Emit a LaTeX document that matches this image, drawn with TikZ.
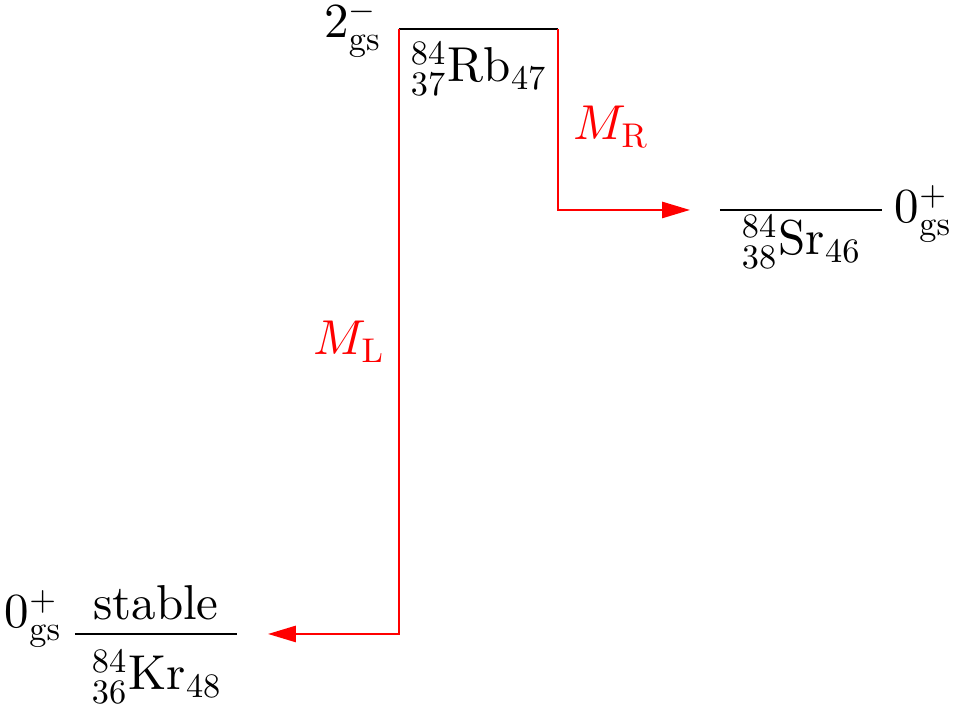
\documentclass[tikz,border=0pt]{standalone}
\usepackage{graphicx}
\usetikzlibrary{arrows.meta}
\newcommand{\ssc}[1]{\scalebox{0.7}{#1}}
\begin{document}
\begin{tikzpicture}[x=0.2041pt,y=-0.2041pt,
  level/.style={line width=0.5pt,black},
  decay/.style={line width=0.45pt,red,-{Triangle[length=5.7pt,width=3.3pt]}},
  lbl/.style={inner sep=0pt},
  redlbl/.style={inner sep=0pt,text=red}]
\useasboundingbox (0,0) rectangle (957,708);
% coordinates
\coordinate (rbL) at (399,29);
\coordinate (rbR) at (558,29);
\coordinate (srL) at (720,210);
\coordinate (srR) at (882,210);
\coordinate (krL) at (75,634);
\coordinate (krR) at (237,634);
\coordinate (srEnd) at (690,210);
\coordinate (krEnd) at (268,634);
% levels
\draw[level] (rbL) -- (rbR);
\draw[level] (srL) -- (srR);
\draw[level] (krL) -- (krR);
% decays
\draw[decay] (rbL) |- (krEnd);
\draw[decay] (rbR) |- (srEnd);
% labels
\node[lbl,anchor=base east] (rbspin) at (383,38) {$2^{\ssc{$-$}}_{\ssc{gs}}$};
\node[lbl,anchor=base west] (rbname) at (410,82) {${}^{\ssc{84}}_{\ssc{37}}\mathrm{Rb}_{\ssc{47}}$};
\node[lbl,anchor=base west] (srspin) at (894,223) {$0^{\ssc{$+$}}_{\ssc{gs}}$};
\node[lbl,anchor=base west] (srname) at (741,255) {${}^{\ssc{84}}_{\ssc{38}}\mathrm{Sr}_{\ssc{46}}$};
\node[lbl,anchor=base west] (krspin) at (4,628) {$0^{\ssc{$+$}}_{\ssc{gs}}$};
\node[lbl,anchor=base] (krstable) at (156,620) {stable};
\node[lbl,anchor=base west] (krname) at (91,690) {${}^{\ssc{84}}_{\ssc{36}}\mathrm{Kr}_{\ssc{48}}$};
\node[redlbl,anchor=base west] (mr) at (573,140) {$M_{\ssc{R}}$};
\node[redlbl,anchor=base west] (ml) at (313,355) {$M_{\ssc{L}}$};
\end{tikzpicture}
\end{document}
